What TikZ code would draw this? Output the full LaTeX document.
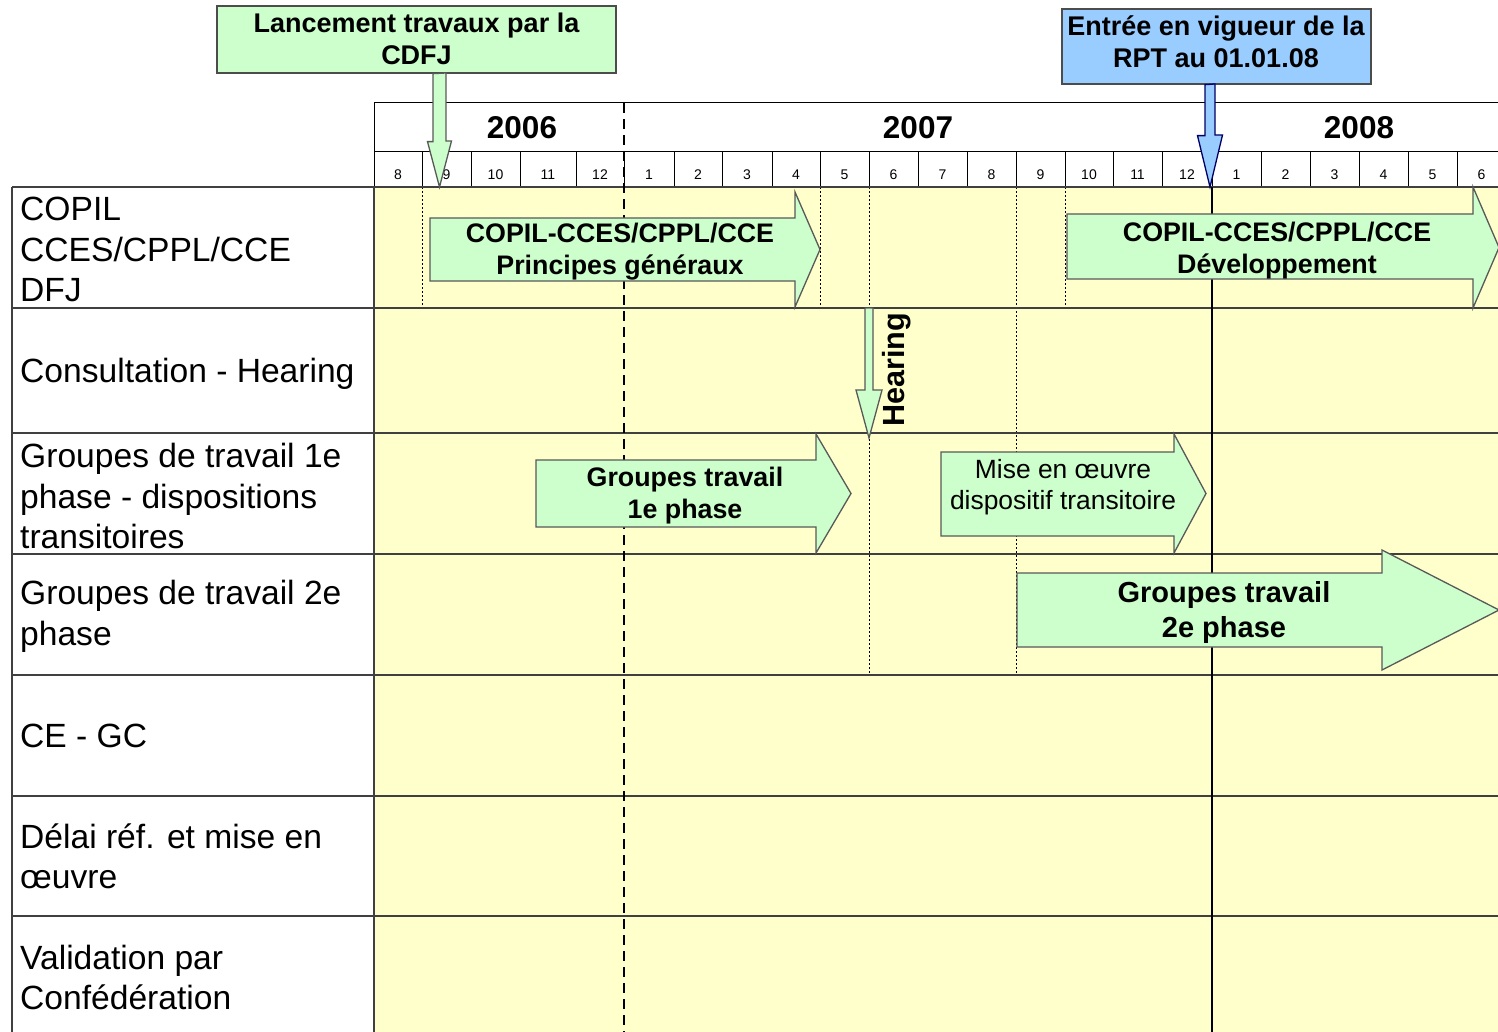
\documentclass[tikz,border=0pt]{standalone}
\usepackage{fontspec}
\setmainfont{Liberation Sans}
\usetikzlibrary{calc}

\definecolor{phasefill}{HTML}{CCFFCC}
\definecolor{rptfill}{HTML}{99CCFF}
\definecolor{gridfill}{HTML}{FFFFCC}

\tikzset{
  phasearrow/.style={fill=phasefill,draw=black!65,line width=1.3pt,line join=miter},
  callout/.style={draw=black!70,line width=1.3pt,inner sep=0pt},
  callouttext/.style={align=center,inner sep=0pt,font=\bfseries\fontsize{27}{32}\selectfont},
  rowlabel/.style={anchor=west,align=left,inner sep=0pt,font=\fontsize{33.6}{40.5}\selectfont},
  phasetext/.style={align=center,inner sep=0pt,font=\bfseries\fontsize{26.8}{32}\selectfont},
  monthlabel/.style={inner sep=0pt,font=\fontsize{14}{14}\selectfont},
  yearlabel/.style={inner sep=0pt,font=\bfseries\fontsize{31.5}{32}\selectfont},
  rowline/.style={draw=black!75,line width=1.6pt},
  gridline/.style={draw=black,line width=1pt},
  monthmark/.style={draw=black,line width=0.9pt,dash pattern=on 2pt off 2pt},
}

% left, head start, tip, body top, body bottom, head top, head bottom
\newcommand{\drawphase}[7]{%
  \filldraw[phasearrow] (#1,#4) -- (#2,#4) -- (#2,#6) -- (#3,{(#6+#7)/2})
    -- (#2,#7) -- (#2,#5) -- (#1,#5) -- cycle;}

\begin{document}
\begin{tikzpicture}[x=1pt,y=-1pt]
\useasboundingbox (0,0) rectangle (1498,1032);
\clip (0,0) rectangle (1498,1032);
\fill[gridfill] (374,187) rectangle (1498,1032);

% header: months and years
\foreach \xa/\xb/\m [count=\i] in {374/422/8, 422/471/9, 471/520/10, 520/576/11,
    576/624/12, 624/674/1, 674/722/2, 722/772/3, 772/820/4, 820/869/5, 869/918/6,
    918/967/7, 967/1016/8, 1016/1065/9, 1065/1113/10, 1113/1162/11, 1162/1212/12,
    1212/1261/1, 1261/1310/2, 1310/1359/3, 1359/1408/4, 1408/1457/5, 1457/1506/6} {
  \draw[gridline] (\xa,152) rectangle (\xb,187);
  \node[monthlabel] (mo\i) at ({(\xa+\xb)/2},175) {\m};
}
\draw[gridline] (1498,103) -- (374,103) -- (374,1032);
\draw[gridline] (374,152) -- (1498,152);
\draw[gridline] (1212,103) -- (1212,152);
\node[yearlabel] (y2006) at (522,128) {2006};
\node[yearlabel] (y2007) at (918,128) {2007};
\node[yearlabel] (y2008) at (1359,128) {2008};

\foreach \x/\yb in {422/308, 820/308, 869/675, 1016/675, 1065/308}
  \draw[monthmark] (\x,187) -- (\x,\yb);
\foreach \y in {187,308,433,554,675,796,916}
  \draw[rowline] (12,\y) -- (1498,\y);
\draw[rowline] (12,187) -- (12,1032);
\draw[rowline] (374,187) -- (374,1032);
\draw[black,line width=1.4pt] (1212,187) -- (1212,1032);
\draw[black,line width=2.6pt,dash pattern=on 10pt off 6pt] (624,103) -- (624,1032);

\node[rowlabel] (copil) at (20,249.5) {COPIL\\CCES/CPPL/CCE\\DFJ};
\node[rowlabel] (consult) at (20,374) {Consultation - Hearing};
\node[rowlabel] (gtun) at (20,496) {Groupes de travail 1e\\phase - dispositions\\transitoires};
\node[rowlabel] (gtdeux) at (20,616.5) {Groupes de travail 2e\\phase};
\node[rowlabel] (cegc) at (20,736) {CE - GC};
\node[rowlabel] (delai) at (20,856.5) {Délai réf. et mise en\\œuvre};
\node[rowlabel] (valid) at (20,977.5) {Validation par\\Confédération};

\drawphase{430}{795}{820}{218}{281}{192}{307}
\node[phasetext] (copilgen) at (620,252) {COPIL-CCES/CPPL/CCE\\Principes généraux};
\drawphase{1067}{1473}{1499}{214}{279}{187}{308}
\node[phasetext] (copildev) at (1277,251) {COPIL-CCES/CPPL/CCE\\Développement};
\drawphase{536}{816}{851}{460}{527}{434}{553}
\node[phasetext] (gtphaseun) at (685,496) {Groupes travail\\1e phase};
\drawphase{941}{1174}{1206}{452}{536}{434}{553}
\node[phasetext,font=\fontsize{26.4}{31}\selectfont] (mise) at (1063,487) {Mise en œuvre\\dispositif transitoire};
\drawphase{1017}{1382}{1499}{573}{647}{550}{670}
\node[phasetext,font=\bfseries\fontsize{29}{35}\selectfont] (gtphasedeux) at (1224,612) {Groupes travail\\2e phase};

% milestones
\node[callout,fill=phasefill,minimum width=399,minimum height=67] (lancement) at (416.5,39.5) {};
\node[callouttext] (lancementtext) at (416.5,39) {Lancement travaux par la\\CDFJ};
\node[callout,fill=rptfill,minimum width=309,minimum height=75] (rpt) at (1216.5,46.5) {};
\node[callouttext] (rpttext) at (1216,42) {Entrée en vigueur de la\\RPT au 01.01.08};
\coordinate (cdfjtip) at (439.5,187);
\filldraw[phasearrow] (cdfjtip |- lancement.south) ++(-6.5,0) -- ++(0,68) -- ++(-5.5,0)
  -- (cdfjtip) -- ++(12,-46) -- ++(-5.5,0) -- ++(0,-68) -- cycle;
\coordinate (rpttip) at (1210,187);
\filldraw[phasearrow,fill=rptfill,draw=black!60!blue] (rpttip |- rpt.south) ++(-5,0) -- ++(0,51)
  -- ++(-7.5,0) -- (rpttip) -- ++(12.5,-52) -- ++(-7.5,0) -- ++(0,-51) -- cycle;
\coordinate (hearfrom) at (869,308);
\coordinate (heartip) at (869,438);
\filldraw[phasearrow] (hearfrom) ++(-4,0) -- ++(0,82) -- ++(-9,0) -- (heartip)
  -- ++(13,-48) -- ++(-9,0) -- ++(0,-82) -- cycle;
\node[inner sep=0pt,rotate=90,font=\bfseries\fontsize{30.6}{32}\selectfont] (hearing) at (897,370) {Hearing};
\end{tikzpicture}
\end{document}
